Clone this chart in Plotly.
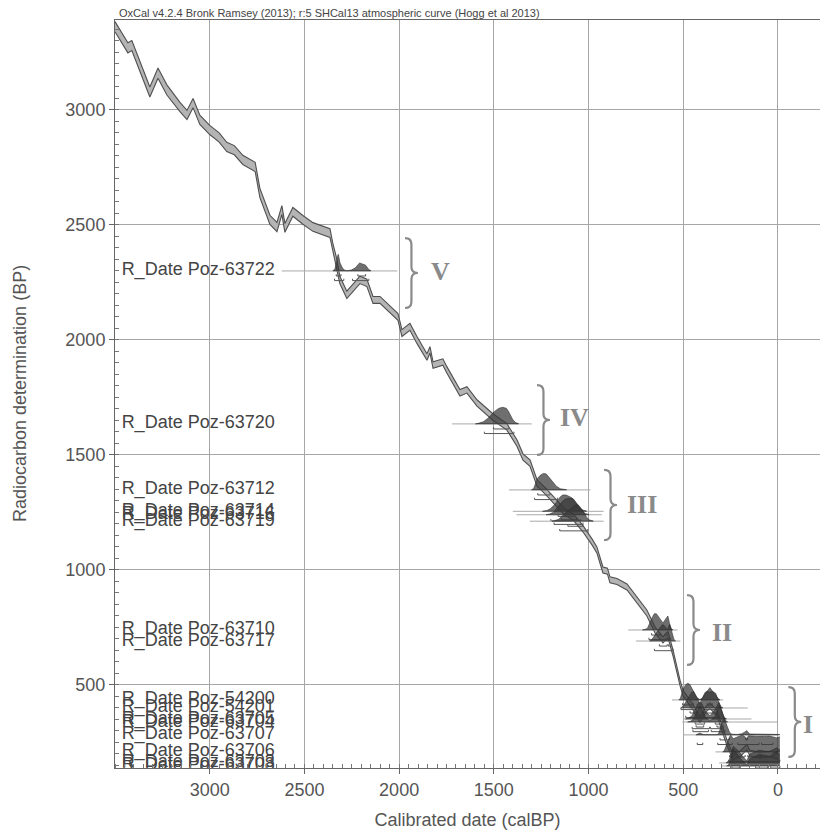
import numpy as np
import plotly.graph_objects as go

# ---------------- data ----------------
# calibration curve (SHCal13 as plotted): cal BP, radiocarbon BP, 1-sigma
curve_cal = [3500, 3458, 3432, 3411, 3316, 3273, 3226, 3157, 3120, 3088, 3052, 3000,
             2950, 2910, 2870, 2825, 2788, 2760, 2735, 2682, 2645, 2619, 2603, 2561, 2508, 2455, 2365,
             2350, 2330, 2313, 2276, 2207, 2170, 2138, 2101, 2033, 2006, 1985, 1943,
             1906, 1853, 1837, 1821, 1769, 1748, 1679, 1642, 1589, 1505, 1431, 1378,
             1346, 1309, 1272, 1230, 1180, 1130, 1080, 1030, 980, 956, 924, 900,
             887, 850, 797, 745, 692, 649, 607, 581, 554, 517, 501, 449,
             412, 380, 359, 322, 290, 269, 237, 201, 164, 148, 95, 42, 5, 0]
curve_c14 = [3362, 3304, 3270, 3280, 3078, 3160, 3087, 3013, 2978, 3030, 2957, 2913,
             2880, 2839, 2825, 2783, 2765, 2752, 2639, 2522, 2491, 2565, 2487, 2557, 2522, 2491, 2465,
             2404, 2340, 2261, 2196, 2261, 2248, 2174, 2174, 2122, 2100, 2030, 2057,
             2000, 1926, 1957, 1891, 1904, 1870, 1770, 1783, 1726, 1665, 1622, 1552,
             1491, 1465, 1378, 1345, 1300, 1255, 1230, 1180, 1120, 1087, 1000, 995,
             957, 950, 926, 870, 813, 739, 696, 720, 639, 509, 465, 404,
             348, 395, 410, 378, 300, 248, 187, 200, 230, 204, 195, 200, 190, 195]
curve_err = [22, 22, 22, 22, 22, 22, 22, 20, 20, 20, 20, 20,
             20, 20, 20, 20, 20, 20, 20, 20, 20, 19, 19, 19, 19, 19, 19,
             16, 16, 16, 16, 16, 16, 15, 15, 15, 15, 15, 15,
             15, 14, 14, 14, 14, 14, 14, 14, 14, 14, 14, 14,
             14, 14, 14, 14, 14, 14, 14, 14, 13, 13, 13, 13,
             13, 13, 13, 13, 13, 13, 13, 13, 13, 12, 12, 12,
             12, 12, 12, 12, 12, 12, 12, 12, 12, 12, 12, 12, 12, 12]

# radiocarbon dates
date_names = ["R_Date Poz-63722", "R_Date Poz-63720", "R_Date Poz-63712", "R_Date Poz-63714",
              "R_Date Poz-63716", "R_Date Poz-63719", "R_Date Poz-63710", "R_Date Poz-63717",
              "R_Date Poz-54200", "R_Date Poz-54201", "R_Date Poz-63705", "R_Date Poz-63704",
              "R_Date Poz-63707", "R_Date Poz-63706", "R_Date Poz-63703", "R_Date Poz-63708"]
date_bp = [2300, 1635, 1348, 1255, 1240, 1212, 739, 691, 435, 400, 352, 339, 283, 209, 161, 148]
date_err = [30, 30, 30, 30, 30, 30, 30, 30, 30, 30, 30, 30, 30, 30, 30, 30]
date_range_old = [2620, 1720, 1420, 1400, 1380, 1310, 790, 750, 560, 470, 500, 505, 500, 330, 310, 300]
date_range_young = [2010, 1300, 990, 920, 930, 920, 530, 515, 290, 160, 140, 0, 0, 0, -5, 0]

# phase groups
group_names = ["V", "IV", "III", "II", "I"]
group_bp_top = [2443, 1804, 1435, 891, 491]
group_bp_bottom = [2139, 1500, 1130, 587, 187]

x_ticks = [3000, 2500, 2000, 1500, 1000, 500, 0]
y_ticks = [500, 1000, 1500, 2000, 2500, 3000]

title_text = "OxCal v4.2.4 Bronk Ramsey (2013); r:5 SHCal13 atmospheric curve (Hogg et al 2013)"

# ---------------- styling / placement ----------------
X_RANGE = [3500, -222]
Y_RANGE = [139, 3391]
brace_cal = [1969, 1272, 918, 480, -55]        # left edge of each brace
brace_width = 68                                 # cal years
numeral_cal = [1779, 1072, 718, 296, -158]
numeral_bp = [2296, 1661, 1283, 726, 326]
label_cal = 3465
sil_height = 72    # BP units for a peak

FONT = "Liberation Sans, Arial, sans-serif"
TXT = "#555555"

fig = go.Figure()

# calibration curve band
cc = np.array(curve_cal, float)
c14 = np.array(curve_c14, float)
ce = np.array(curve_err, float)
fig.add_trace(go.Scatter(x=cc, y=c14 - ce, mode="lines",
                         line=dict(color="#505050", width=1.1), hoverinfo="skip", showlegend=False))
fig.add_trace(go.Scatter(x=cc, y=c14 + ce, mode="lines", fill="tonexty",
                         fillcolor="#b4b4b4",
                         line=dict(color="#505050", width=1.1), hoverinfo="skip", showlegend=False))

# calibrate each date against the curve
grid = np.arange(-10, 3500, 1.0)
order = np.argsort(cc)
mu_curve = np.interp(grid, cc[order], c14[order])
sd_curve = np.interp(grid, cc[order], ce[order])

for name, bp, err, old, young in zip(date_names, date_bp, date_err, date_range_old, date_range_young):
    # date line
    fig.add_trace(go.Scatter(x=[old, young], y=[bp, bp], mode="lines",
                             line=dict(color="#a8a8a8", width=1), hoverinfo="skip", showlegend=False))
    s2 = err ** 2 + sd_curve ** 2
    p = np.exp(-(mu_curve - bp) ** 2 / (2 * s2)) / np.sqrt(s2)
    p = p / p.sum()
    keep = np.where(p > p.max() * 0.01)[0]
    gx = grid[keep[0]:keep[-1] + 1]
    gp = p[keep[0]:keep[-1] + 1]
    ys = bp + sil_height * gp / p.max()
    px_ = np.concatenate([gx, gx[::-1]])
    py_ = np.concatenate([ys, np.full(len(gx), bp)])
    fig.add_trace(go.Scatter(x=px_, y=py_, mode="lines", fill="toself",
                             fillcolor="rgba(55,55,55,0.72)",
                             line=dict(color="rgba(40,40,40,0.9)", width=0.6),
                             hoverinfo="skip", showlegend=False))
    # HPD ranges (68.2 % and 95.4 %) as brackets below the line
    srt = np.sort(p)[::-1]
    cs = np.cumsum(srt)
    for lvl, off in ((0.682, 22), (0.954, 42)):
        thr = srt[np.searchsorted(cs, lvl)]
        mask = p >= thr
        segx, segy = [], []
        i = 0
        n = len(p)
        while i < n:
            if mask[i]:
                j = i
                while j + 1 < n and mask[j + 1]:
                    j += 1
                yb = bp - off
                segx += [grid[i], grid[i], grid[j], grid[j], None]
                segy += [yb + 8, yb, yb, yb + 8, None]
                i = j + 1
            else:
                i += 1
        fig.add_trace(go.Scatter(x=segx, y=segy, mode="lines",
                                 line=dict(color="#555555", width=1),
                                 hoverinfo="skip", showlegend=False))

# date labels
fig.add_trace(go.Scatter(x=[label_cal] * len(date_names), y=date_bp, mode="text",
                         text=date_names, textposition="middle right",
                         textfont=dict(family=FONT, size=18, color="#444444"),
                         hoverinfo="skip", showlegend=False))

# braces
shapes = []
for xl, top, bot in zip(brace_cal, group_bp_top, group_bp_bottom):
    xm = xl - brace_width / 2
    xr = xl - brace_width
    ym = (top + bot) / 2
    r = (top - bot) * 0.09
    path = (f"M {xl},{top} Q {xm},{top} {xm},{top - r} L {xm},{ym + r} "
            f"Q {xm},{ym} {xr},{ym} Q {xm},{ym} {xm},{ym - r} L {xm},{bot + r} "
            f"Q {xm},{bot} {xl},{bot}")
    shapes.append(dict(type="path", path=path, xref="x", yref="y",
                       line=dict(color="#8a8a8a", width=2.2)))

annotations = []
for g, xc, yc in zip(group_names, numeral_cal, numeral_bp):
    annotations.append(dict(x=xc, y=yc, xref="x", yref="y", text=f"<b>{g}</b>", showarrow=False,
                            font=dict(family="Liberation Serif, Times New Roman, serif",
                                      size=26, color="#8a8a8a")))
annotations.append(dict(x=0.003, y=1.0, xref="paper", yref="paper", xanchor="left", yanchor="bottom",
                        yshift=-1, text=title_text, showarrow=False,
                        font=dict(family=FONT, size=11, color="#444444")))
annotations.append(dict(x=-95 / 705, y=0.5, xref="paper", yref="paper", text="Radiocarbon determination (BP)",
                        textangle=-90, showarrow=False, xanchor="center", yanchor="middle",
                        font=dict(family=FONT, size=18, color=TXT)))

fig.update_layout(
    width=820, height=831,
    margin=dict(l=115, r=0, t=20, b=63),
    paper_bgcolor="white", plot_bgcolor="white",
    shapes=shapes, annotations=annotations,
    font=dict(family=FONT, color=TXT),
)
fig.update_xaxes(range=X_RANGE, tickvals=x_ticks, ticktext=[str(v) for v in x_ticks],
                 ticks="outside", ticklen=5, tickcolor="#666666",
                 tickfont=dict(size=18, color=TXT),
                 minor=dict(dtick=50, ticks="inside", ticklen=4, tickcolor="#777777", showgrid=False),
                 showgrid=True, gridcolor="#a6a6a6", gridwidth=1,
                 showline=True, linecolor="#666666", linewidth=1, mirror=True, zeroline=False,
                 title=dict(text="Calibrated date (calBP)", font=dict(size=18, color=TXT), standoff=14))
fig.update_yaxes(range=Y_RANGE, tickvals=y_ticks, ticktext=[str(v) for v in y_ticks],
                 ticks="outside", ticklen=5, tickcolor="#666666",
                 tickfont=dict(size=18, color=TXT),
                 minor=dict(dtick=50, ticks="inside", ticklen=4, tickcolor="#777777", showgrid=False),
                 showgrid=True, gridcolor="#a6a6a6", gridwidth=1,
                 showline=True, linecolor="#666666", linewidth=1, zeroline=False)

fig.write_html("out.html")
